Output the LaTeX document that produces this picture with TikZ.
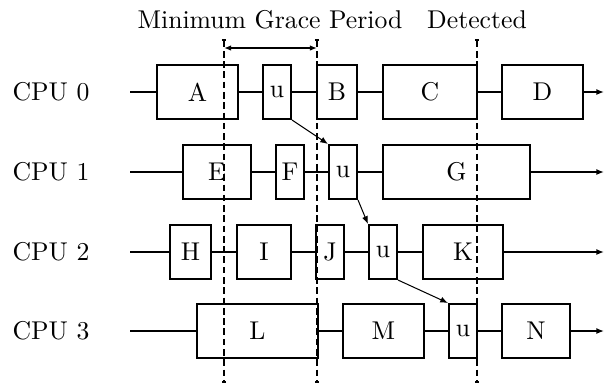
\documentclass[tikz,border=0pt]{standalone}
\usepackage{tikz}
\usetikzlibrary{arrows.meta}

\begin{document}
\begin{tikzpicture}[x=0.389pt, y=-0.389pt,
    blk/.style={draw, thick, inner sep=0pt, minimum height=54*0.389pt},
    cpu/.style={thick},
    gp/.style={thick, dash pattern=on 2.6pt off 1.4pt, {Bar[width=1.6pt]}-{Bar[width=1.6pt]}},
    pass/.style={-{Latex[length=3pt, width=2.4pt]}}]
  \useasboundingbox (0,0) rectangle (605,386);

  % Labels
  \node[anchor=base] (mgp) at (270, 28) {Minimum Grace Period};
  \node[anchor=base] (det) at (477, 28) {Detected};

  % Grace period limits
  \coordinate (g0t) at (224, 39);  \coordinate (g0b) at (224, 383);
  \coordinate (g1t) at (317, 39);  \coordinate (g1b) at (317, 383);
  \coordinate (g2t) at (477, 39);  \coordinate (g2b) at (477, 383);
  \draw[gp] (g0t) -- (g0b);
  \draw[gp] (g1t) -- (g1b);
  \draw[gp] (g2t) -- (g2b);
  \coordinate (m0) at (224, 48);
  \coordinate (m1) at (317, 48);
  \draw[semithick, {Latex[length=2.8pt, width=2.2pt]}-{Latex[length=2.8pt, width=2.2pt]}] (m0) -- (m1);

  % CPU 0
  \node (c0) at (51, 92) {CPU 0};
  \coordinate (s0) at (130, 92);
  \node[blk, minimum width=81*0.389pt] (A) at (197.5, 92) {A};
  \node[blk, minimum width=28*0.389pt] (u0) at (277, 92) {u};
  \node[blk, minimum width=40*0.389pt] (B) at (337, 92) {B};
  \node[blk, minimum width=94*0.389pt] (C) at (430, 92) {C};
  \node[blk, minimum width=81*0.389pt] (D) at (542.5, 92) {D};
  \coordinate (e0) at (604, 92);
  \draw[cpu] (s0) -- (A) -- (u0) -- (B) -- (C) -- (D);
  \draw[cpu, pass] (D) -- (e0);

  % CPU 1
  \node (c1) at (51, 172) {CPU 1};
  \coordinate (s1) at (130, 172);
  \node[blk, minimum width=68*0.389pt] (E) at (217, 172) {E};
  \node[blk, minimum width=28*0.389pt] (F) at (290, 172) {F};
  \node[blk, minimum width=28*0.389pt] (u1) at (343, 172) {u};
  \node[blk, minimum width=147*0.389pt] (G) at (456.5, 172) {G};
  \coordinate (e1) at (604, 172);
  \draw[cpu] (s1) -- (E) -- (F) -- (u1) -- (G);
  \draw[cpu, pass] (G) -- (e1);

  % CPU 2
  \node (c2) at (51, 252) {CPU 2};
  \coordinate (s2) at (130, 252);
  \node[blk, minimum width=41*0.389pt] (H) at (190.5, 252) {H};
  \node[blk, minimum width=54*0.389pt] (I) at (264, 252) {I};
  \node[blk, minimum width=28*0.389pt] (J) at (330, 252) {J};
  \node[blk, minimum width=28*0.389pt] (u2) at (383, 252) {u};
  \node[blk, minimum width=80*0.389pt] (K) at (463, 252) {K};
  \coordinate (e2) at (604, 252);
  \draw[cpu] (s2) -- (H) -- (I) -- (J) -- (u2) -- (K);
  \draw[cpu, pass] (K) -- (e2);

  % CPU 3
  \node (c3) at (51, 331) {CPU 3};
  \coordinate (s3) at (130, 331);
  \node[blk, minimum width=121*0.389pt] (L) at (257.5, 331) {L};
  \node[blk, minimum width=81*0.389pt] (M) at (383.5, 331) {M};
  \node[blk, minimum width=28*0.389pt] (u3) at (463, 331) {u};
  \node[blk, minimum width=68*0.389pt] (N) at (536, 331) {N};
  \coordinate (e3) at (604, 331);
  \draw[cpu] (s3) -- (L) -- (M) -- (u3) -- (N);
  \draw[cpu, pass] (N) -- (e3);

  % Quiescent states handed from CPU to CPU
  \draw[pass] (u0.south east) -- (u1.north west);
  \draw[pass] (u1.south east) -- (u2.north west);
  \draw[pass] (u2.south east) -- (u3.north west);
\end{tikzpicture}
\end{document}
